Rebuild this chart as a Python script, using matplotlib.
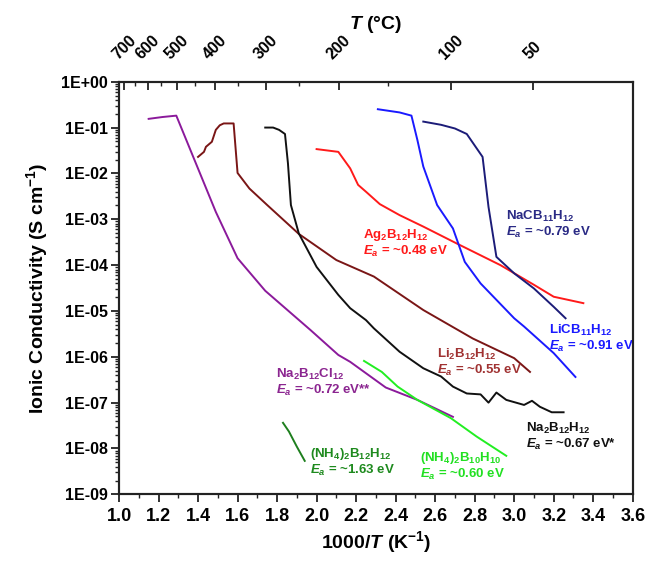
import numpy as np
import matplotlib
matplotlib.use("Agg")
import matplotlib.pyplot as plt
from matplotlib.ticker import FixedLocator, LogLocator, NullFormatter, MultipleLocator

plt.rcParams['font.family'] = ['Liberation Sans', 'DejaVu Sans']
plt.rcParams['font.weight'] = 'bold'
plt.rcParams['mathtext.fontset'] = 'custom'
plt.rcParams['mathtext.rm'] = 'Liberation Sans:bold'
plt.rcParams['mathtext.bf'] = 'Liberation Sans:bold'
plt.rcParams['mathtext.it'] = 'Liberation Sans:bold:italic'

# data: x = 1000/T (K^-1), y = log10 of conductivity (S/cm)
na2b12cl12_x = [1.15, 1.22, 1.29, 1.49, 1.60, 1.74, 1.97, 2.11, 2.17, 2.35, 2.51, 2.69]
na2b12cl12_y = [-0.81, -0.77, -0.74, -2.84, -3.85, -4.56, -5.42, -5.96, -6.11, -6.67, -6.94, -7.31]

li2b12h12_x = [1.40, 1.43, 1.44, 1.47, 1.49, 1.51, 1.53, 1.58, 1.60, 1.66, 1.75, 1.91, 2.10, 2.29,
               2.54, 2.79, 3.00, 3.08]
li2b12h12_y = [-1.64, -1.53, -1.42, -1.31, -1.05, -0.95, -0.91, -0.91, -1.99, -2.33, -2.69, -3.32,
               -3.89, -4.25, -4.98, -5.60, -6.03, -6.33]

na2b12h12_x = [1.74, 1.78, 1.81, 1.84, 1.855, 1.87, 1.91, 2.00, 2.11, 2.17, 2.25, 2.29, 2.42, 2.54,
               2.63, 2.69, 2.76, 2.83, 2.87, 2.91, 2.96, 3.05, 3.09, 3.13, 3.19, 3.25]
na2b12h12_y = [-1.00, -1.00, -1.05, -1.14, -1.78, -2.69, -3.31, -4.04, -4.65, -4.94, -5.20, -5.38,
               -5.89, -6.25, -6.43, -6.65, -6.80, -6.82, -7.00, -6.78, -6.94, -7.05, -6.96, -7.09,
               -7.21, -7.21]

ag2b12h12_x = [2.00, 2.11, 2.17, 2.21, 2.25, 2.32, 2.42, 2.54, 2.71, 2.93, 3.10, 3.20, 3.35]
ag2b12h12_y = [-1.47, -1.53, -1.89, -2.25, -2.40, -2.67, -2.91, -3.16, -3.53, -4.00, -4.43, -4.69, -4.83]

licb11h12_x = [2.31, 2.42, 2.48, 2.51, 2.54, 2.61, 2.69, 2.75, 2.83, 3.00, 3.05, 3.20, 3.31]
licb11h12_y = [-0.60, -0.67, -0.74, -1.27, -1.85, -2.69, -3.20, -3.93, -4.40, -5.16, -5.34, -5.92, -6.44]

nacb11h12_x = [2.54, 2.63, 2.70, 2.76, 2.84, 2.87, 2.91, 3.00, 3.10, 3.20, 3.26]
nacb11h12_y = [-0.87, -0.94, -1.02, -1.14, -1.64, -2.73, -3.82, -4.18, -4.51, -4.91, -5.16]

nh4_b10_x = [2.24, 2.33, 2.41, 2.51, 2.68, 2.81, 2.96]
nh4_b10_y = [-6.09, -6.33, -6.65, -6.94, -7.34, -7.74, -8.16]

nh4_b12_x = [1.83, 1.86, 1.90, 1.94]
nh4_b12_y = [-7.44, -7.63, -7.96, -8.27]

series = [
    (na2b12cl12_x, na2b12cl12_y, '#8B1A9B'),
    (li2b12h12_x, li2b12h12_y, '#7A1616'),
    (na2b12h12_x, na2b12h12_y, '#111111'),
    (ag2b12h12_x, ag2b12h12_y, '#FF1A1A'),
    (licb11h12_x, licb11h12_y, '#1A1AFF'),
    (nacb11h12_x, nacb11h12_y, '#1C1C78'),
    (nh4_b10_x, nh4_b10_y, '#22EE22'),
    (nh4_b12_x, nh4_b12_y, '#1E7F1E'),
]

# labels: name, energy, x, log y line1, log y line2, colour
labels = [
    (r'NaCB$_{11}$H$_{12}$', r'$\mathit{E_a}$ = ~0.79 eV', 2.96, -2.93, -3.28, '#2A2A85'),
    (r'Ag$_{2}$B$_{12}$H$_{12}$', r'$\mathit{E_a}$ = ~0.48 eV', 2.233, -3.35, -3.70, '#FF1A1A'),
    (r'LiCB$_{11}$H$_{12}$', r'$\mathit{E_a}$ = ~0.91 eV', 3.178, -5.42, -5.77, '#1A1AFF'),
    (r'Li$_{2}$B$_{12}$H$_{12}$', r'$\mathit{E_a}$ = ~0.55 eV', 2.607, -5.94, -6.29, '#A03232'),
    (r'Na$_{2}$B$_{12}$Cl$_{12}$', r'$\mathit{E_a}$ = ~0.72 eV**', 1.793, -6.38, -6.73, '#8B2590'),
    (r'Na$_{2}$B$_{12}$H$_{12}$', r'$\mathit{E_a}$ = ~0.67 eV*', 3.062, -7.56, -7.91, '#111111'),
    (r'(NH$_{4}$)$_{2}$B$_{12}$H$_{12}$', r'$\mathit{E_a}$ = ~1.63 eV', 1.965, -8.12, -8.47, '#1E8A1E'),
    (r'(NH$_{4}$)$_{2}$B$_{10}$H$_{10}$', r'$\mathit{E_a}$ = ~0.60 eV', 2.521, -8.21, -8.56, '#22E022'),
]

top_major_c = [700, 600, 500, 400, 300, 200, 100, 50]
top_minor_c = [650, 550, 450, 350, 250, 150]

fig = plt.figure(figsize=(6.45, 5.62), dpi=100)
ax = fig.add_axes([0.1845, 0.1204, 0.7965, 0.7342])

for xs, ys, c in series:
    ax.plot(xs, 10 ** np.array(ys), color=c, lw=1.4)

for name, ea, x, y1, y2, c in labels:
    ax.text(x, 10 ** y1, name, color=c, fontsize=9.5, va='center', ha='left')
    ax.text(x, 10 ** y2, ea, color=c, fontsize=9.5, va='center', ha='left')

ax.set_yscale('log')
ax.set_xlim(1.0, 3.6)
ax.set_ylim(1e-9, 1e0)

yt = [10.0 ** -k for k in range(0, 10)]
ax.yaxis.set_major_locator(FixedLocator(yt))
ax.set_yticklabels(['1E+00'] + ['1E-%02d' % k for k in range(1, 10)])
ax.yaxis.set_minor_locator(LogLocator(base=10, subs=np.arange(2, 10), numticks=20))
ax.yaxis.set_minor_formatter(NullFormatter())

ax.xaxis.set_major_locator(MultipleLocator(0.2))
ax.xaxis.set_minor_locator(MultipleLocator(0.1))
ax.xaxis.set_major_formatter(plt.FuncFormatter(lambda v, p: '%.1f' % v))

ax.tick_params(axis='both', which='major', direction='out', length=6, width=1.3, color='#222222')
ax.tick_params(axis='both', which='minor', direction='out', length=3, width=1.0, color='#222222')
ax.tick_params(axis='y', labelsize=11.5, pad=2)
ax.tick_params(axis='x', labelsize=13, pad=4)
for lab in ax.get_xticklabels() + ax.get_yticklabels():
    lab.set_fontweight('bold')

for s in ax.spines.values():
    s.set_linewidth(1.5)
    s.set_color('#222222')

ax.set_xlabel(r'1000/$\mathit{T}$ (K$^{-1}$)', fontsize=14, fontweight='bold', labelpad=3)
ax.set_ylabel(r'Ionic Conductivity (S cm$^{-1}$)', fontsize=14, fontweight='bold', labelpad=8)

# top axis in degrees C
tax = ax.twiny()
tax.set_xlim(ax.get_xlim())
tax.set_xticks([1000.0 / (t + 273.15) for t in top_major_c])
tax.set_xticklabels([str(t) for t in top_major_c], rotation=45, fontsize=11.5, fontweight='bold')
tax.set_xticks([1000.0 / (t + 273.15) for t in top_minor_c], minor=True)
tax.tick_params(axis='x', which='major', direction='in', length=6, width=1.3, pad=14, color='#222222')
tax.tick_params(axis='x', which='minor', direction='in', length=3, width=1.0, color='#222222')
tax.set_xlabel(r'$\mathit{T}$ (°C)', fontsize=14, fontweight='bold', labelpad=3)
for s in tax.spines.values():
    s.set_linewidth(1.5)
    s.set_color('#222222')

fig.savefig('out.png', dpi=100)
